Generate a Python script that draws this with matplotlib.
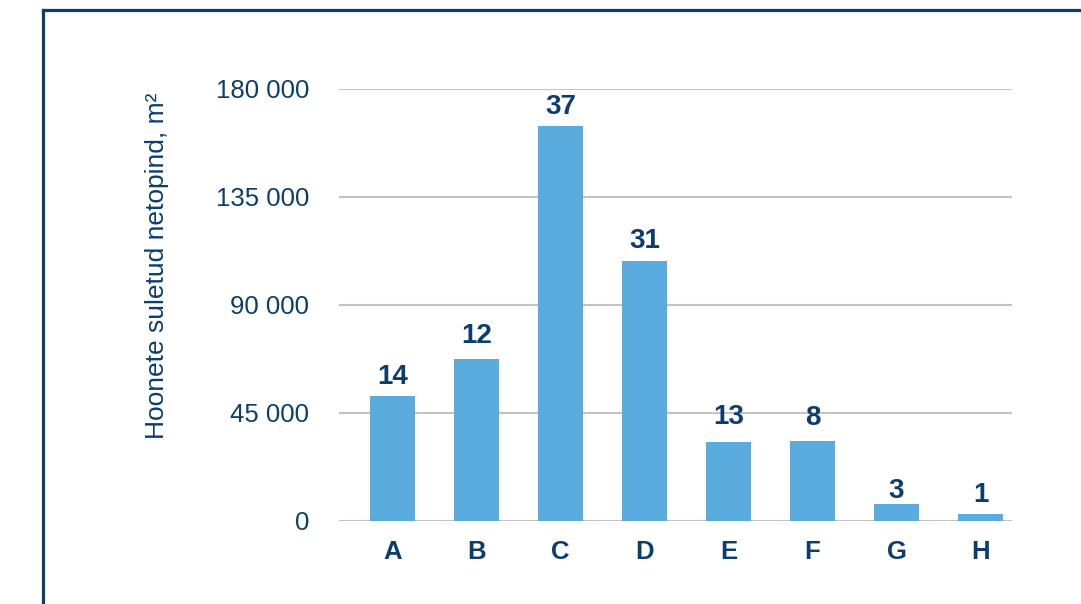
import matplotlib
matplotlib.use("Agg")
import matplotlib.pyplot as plt
from matplotlib.lines import Line2D

categories = ["A", "B", "C", "D", "E", "F", "G", "H"]
areas = [52000, 67700, 164600, 108300, 33100, 33500, 7100, 2900]
counts = [14, 12, 37, 31, 13, 8, 3, 1]
yticks = [0, 45000, 90000, 135000, 180000]
ytick_labels = ["0", "45 000", "90 000", "135 000", "180 000"]
ylabel = "Hoonete suletud netopind, m²"

navy = "#0b3d6e"
bar_color = "#59acdd"
grid_color = "#c3c3c3"

W, H = 1081, 604
fig = plt.figure(figsize=(W / 100, H / 100), dpi=100)
fig.patch.set_facecolor("white")
plt.rcParams['font.family'] = ['Liberation Sans', 'DejaVu Sans']

ax = fig.add_axes([339 / W, (H - 521) / H, 673 / W, 432 / H])
x = list(range(len(categories)))
bars = ax.bar(x, areas, width=0.535, color=bar_color, zorder=3)
ax.set_xlim(-0.637, 7.375)
ax.set_ylim(0, 180000)
ax.set_yticks(yticks)
ax.set_yticklabels(ytick_labels, fontsize=18.5, color=navy)
ax.set_xticks(x)
ax.set_xticklabels(categories, fontsize=18.5, fontweight="bold", color=navy)
ax.tick_params(axis="y", length=0, pad=21.6)
ax.tick_params(axis="x", length=0, pad=14)
for s in ax.spines.values():
    s.set_visible(False)
ax.yaxis.grid(True, color=grid_color, linewidth=1.5, zorder=0)
ax.set_axisbelow(True)

label_offsets = [8.6, 11.5, 8.6, 9.4, 13, 11.5, 4.3, 8.6]
for xi, v, c, off in zip(x, areas, counts, label_offsets):
    ax.annotate(str(c), xy=(xi, v), xytext=(0, off), textcoords="offset points",
                ha="center", va="baseline", fontsize=20, fontweight="bold", color=navy)

fig.text(157 / W, 1 - 266 / H, ylabel, rotation=90, ha="center", va="center",
         fontsize=19, color=navy)

# frame
fig.add_artist(Line2D([42.5 / W, 42.5 / W], [0, 1 - 9.5 / H], color=navy, linewidth=2.3,
                      transform=fig.transFigure, solid_capstyle="projecting"))
fig.add_artist(Line2D([42.5 / W, 1.0], [1 - 9.5 / H, 1 - 9.5 / H], color=navy, linewidth=2.3,
                      transform=fig.transFigure, solid_capstyle="projecting"))

fig.savefig("out.png", dpi=100)
